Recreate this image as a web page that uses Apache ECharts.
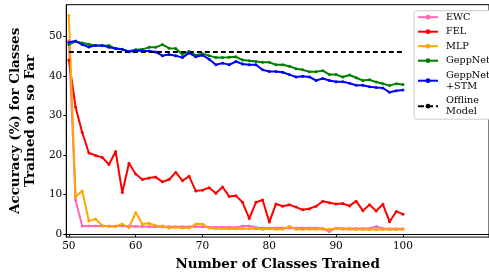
<!DOCTYPE html>
<html>
<head>
<meta charset="utf-8">
<script src="https://cdn.jsdelivr.net/npm/echarts@6/dist/echarts.min.js"></script>
<style>html,body{margin:0;padding:0;background:#fff;}#c{width:489px;height:276px;}</style>
</head>
<body>
<div id="c"></div>
<script>
const classes = [];
for (let c = 50; c <= 100; c++) classes.push(c);
const xTicks = [50, 60, 70, 80, 90, 100];
const yTicks = [0, 10, 20, 30, 40, 50];

const ewc = [49.0, 8.6, 2.0, 2.0, 2.0, 2.0, 2.0, 2.0, 2.0, 2.0,
  1.9, 1.9, 1.8, 1.8, 1.8, 1.8, 1.8, 1.8, 1.8, 1.8,
  1.8, 1.7, 1.7, 1.7, 1.7, 1.6, 2.0, 2.0, 1.6, 1.5,
  1.5, 1.5, 1.5, 1.5, 1.5, 1.5, 1.5, 1.5, 1.4, 0.6,
  1.5, 1.4, 1.4, 1.4, 1.4, 1.4, 1.9, 1.4, 1.3, 1.3, 1.3];
const fel = [44.1, 32.2, 25.7, 20.5, 19.9, 19.4, 17.6, 20.9, 10.5, 17.9,
  15.2, 13.8, 14.2, 14.4, 13.2, 13.8, 15.6, 13.5, 14.6, 10.9,
  11.1, 11.7, 10.3, 11.9, 9.5, 9.7, 8.0, 3.9, 8.0, 8.6,
  3.0, 7.6, 7.0, 7.4, 6.8, 6.1, 6.4, 7.0, 8.3, 7.9,
  7.6, 7.7, 7.1, 8.3, 5.9, 7.4, 5.8, 7.5, 3.1, 5.7, 5.0];
const mlp = [55.4, 9.4, 10.9, 3.3, 3.8, 2.1, 1.9, 1.9, 2.5, 1.6,
  5.4, 2.5, 2.7, 2.1, 2.0, 1.5, 1.7, 1.5, 1.5, 2.5,
  2.5, 1.5, 1.3, 1.3, 1.3, 1.3, 1.4, 1.3, 1.3, 1.2,
  1.3, 1.2, 1.2, 1.9, 1.2, 1.2, 1.2, 1.2, 1.2, 1.2,
  1.4, 1.2, 1.2, 1.1, 1.1, 1.1, 1.1, 1.1, 1.1, 1.1, 1.1];
const geppnet = [48.0, 48.8, 48.4, 48.1, 47.8, 47.7, 47.8, 47.0, 46.8, 46.3,
  46.7, 46.8, 47.3, 47.3, 48.0, 47.1, 47.0, 45.5, 46.3, 45.3,
  45.7, 45.2, 44.7, 44.7, 44.8, 44.9, 44.1, 43.9, 43.7, 43.5,
  43.5, 42.9, 42.9, 42.5, 41.9, 41.6, 41.1, 41.1, 41.4, 40.4,
  40.4, 39.8, 40.3, 39.6, 38.9, 39.1, 38.5, 38.1, 37.6, 38.1, 37.9];
const geppnetStm = [48.6, 48.9, 48.0, 47.4, 47.8, 47.8, 47.3, 47.0, 46.8, 46.2,
  46.5, 46.4, 46.4, 46.1, 45.2, 45.5, 45.2, 44.7, 45.9, 44.9,
  45.3, 44.3, 42.9, 43.3, 42.9, 43.7, 43.1, 42.9, 42.9, 41.6,
  41.2, 41.2, 41.0, 40.4, 39.8, 40.0, 39.8, 38.9, 39.4, 38.9,
  38.6, 38.6, 38.2, 37.7, 37.7, 37.3, 37.1, 37.0, 35.9, 36.3, 36.5];
const offlineX = [50, 100];
const offline = [46.1, 46.1];

const font = 'DejaVu Serif';
function pairs(xs, ys) { return xs.map((x, i) => [x, ys[i]]); }
function lineSeries(name, ys, color) {
  return {
    name: name, type: 'line', data: pairs(classes, ys),
    symbol: 'circle', symbolSize: 3, showSymbol: true,
    lineStyle: { color: color, width: 2 }, itemStyle: { color: color },
    animation: false
  };
}

const chart = echarts.init(document.getElementById('c'), null, { renderer: 'canvas' });
chart.setOption({
  animation: false,
  grid: { left: 58.3, right: -10, top: 4.7, bottom: 31.7, show: true, borderColor: '#000', borderWidth: 1 },
  xAxis: {
    type: 'value', min: 49.612, max: 112.88,
    name: 'Number of Classes Trained', nameLocation: 'middle', nameGap: 15,
    nameTextStyle: { fontFamily: font, fontWeight: 'bold', fontSize: 13.5, color: '#000' },
    axisLine: { show: true, lineStyle: { color: '#000', width: 1 } },
    axisTick: { show: true, length: 3, lineStyle: { color: '#000' }, customValues: xTicks },
    axisLabel: { fontFamily: font, fontSize: 10.5, color: '#000', margin: 4, customValues: xTicks },
    splitLine: { show: false }
  },
  yAxis: {
    type: 'value', min: -0.81, max: 58.12,
    name: 'Accuracy (%) for Classes\nTrained on so Far', nameLocation: 'middle', nameGap: 18, nameRotate: 90,
    nameTextStyle: { fontFamily: font, fontWeight: 'bold', fontSize: 13.5, lineHeight: 15, color: '#000' },
    axisLine: { show: true, lineStyle: { color: '#000', width: 1 } },
    axisTick: { show: true, length: 3, lineStyle: { color: '#000' }, customValues: yTicks },
    axisLabel: { fontFamily: font, fontSize: 10.5, color: '#000', margin: 4, customValues: yTicks },
    splitLine: { show: false }
  },
  legend: {
    orient: 'vertical', left: 414, top: 10.7,
    itemWidth: 20, itemHeight: 6, itemGap: 3.5,
    padding: [1, 30, 2, 3],
    backgroundColor: '#fff', borderColor: '#ccc', borderWidth: 1, borderRadius: 3,
    textStyle: { fontFamily: font, fontSize: 9.7, lineHeight: 11, color: '#000', padding: [0, 0, 0, 3] },
    data: ['EWC', 'FEL', 'MLP', 'GeppNet', 'GeppNet\n+STM',
      { name: 'Offline\nModel', lineStyle: { type: [6, 3], width: 2, color: '#000' } }]
  },
  series: [
    lineSeries('EWC', ewc, '#ff69b4'),
    lineSeries('FEL', fel, '#ff0000'),
    lineSeries('MLP', mlp, '#ffa500'),
    lineSeries('GeppNet', geppnet, '#008000'),
    lineSeries('GeppNet\n+STM', geppnetStm, '#0000ff'),
    {
      name: 'Offline\nModel', type: 'line', data: pairs(offlineX, offline),
      symbol: 'none', lineStyle: { color: '#000', width: 2, type: [5, 3] },
      itemStyle: { color: '#000' }, animation: false
    }
  ]
});
</script>
</body>
</html>
